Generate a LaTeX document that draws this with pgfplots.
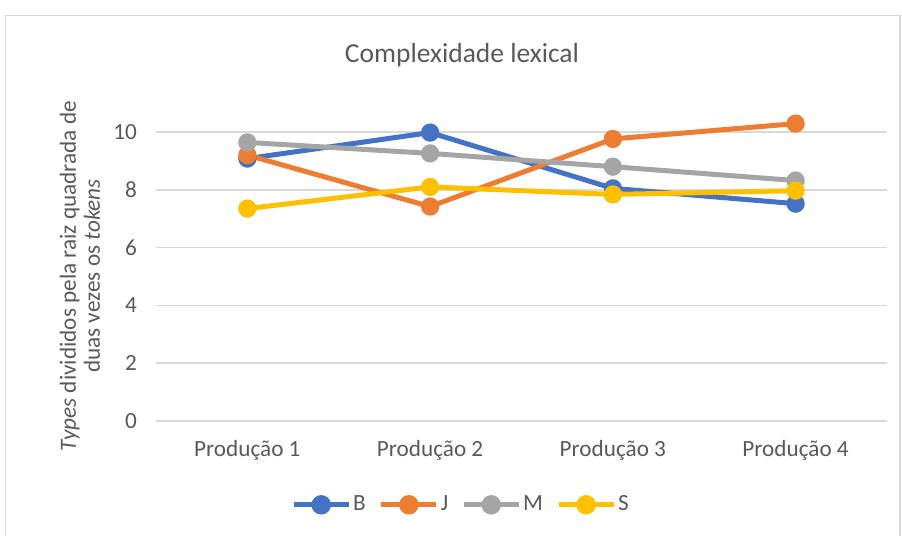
\documentclass[border=0pt]{standalone}
\usepackage{pgfplots}
\pgfplotsset{compat=1.18}
\usepackage{fontspec}
\setmainfont{Carlito}
\definecolor{cB}{HTML}{4472C4}
\definecolor{cJ}{HTML}{ED7D31}
\definecolor{cM}{HTML}{A5A5A5}
\definecolor{cS}{HTML}{FFC000}
\definecolor{txt}{HTML}{595959}
\definecolor{grd}{HTML}{D9D9D9}
\begin{document}
\begin{tikzpicture}
\path[use as bounding box] (0,0) rectangle (451pt,-268pt);
\draw[grd, line width=0.75pt] (2.75pt,-7.75pt) rectangle (450pt,-268.5pt);
\node[text=txt, font=\fontsize{13.75pt}{16pt}\selectfont] at (231pt,-27.5pt) {Complexidade lexical};
\node[text=txt, rotate=90, align=center, font=\fontsize{11.6pt}{12pt}\selectfont] at (40pt,-138pt)
  {\textit{Types} divididos pela raiz quadrada de\\duas vezes os \textit{tokens}};
\begin{axis}[
  at={(78pt,-210.5pt)}, anchor=south west,
  width=365.5pt, height=144.5pt, scale only axis,
  xmin=-0.5, xmax=3.5, ymin=0, ymax=10,
  xtick={0,1,2,3},
  xticklabels={Produção 1, Produção 2, Produção 3, Produção 4},
  ytick={0,2,4,6,8,10},
  ymajorgrids, grid style={grd, line width=0.75pt},
  axis line style={draw=none},
  tick style={draw=none},
  clip=false,
  /pgf/number format/assume math mode=true,
  ticklabel style={text=txt, font=\fontsize{11.6pt}{13pt}\selectfont},
  xticklabel style={yshift=-6pt},
  yticklabel style={xshift=-6pt},
  legend style={at={(0.4186,-0.29)}, anchor=center, draw=none, fill=none,
    legend columns=4, text=txt, font=\fontsize{11.6pt}{13pt}\selectfont,
    /tikz/every even column/.append style={column sep=4.5pt},
    /tikz/every odd column/.append style={column sep=-1pt},
    inner sep=0pt},
  legend cell align=left,
  legend image code/.code={\draw[mark repeat=2, mark phase=2, #1, mark size=3.6pt] plot coordinates {(0pt,0pt) (13.75pt,0pt) (27.5pt,0pt)};},
  every axis plot/.append style={line width=2.5pt, mark=*, mark size=3.3pt, mark options={solid}},
]
\addplot[cB] coordinates {(0,9.08) (1,9.98) (2,8.05) (3,7.52)};
\addplot[cJ] coordinates {(0,9.20) (1,7.42) (2,9.76) (3,10.29)};
\addplot[cM] coordinates {(0,9.64) (1,9.26) (2,8.80) (3,8.32)};
\addplot[cS] coordinates {(0,7.35) (1,8.10) (2,7.84) (3,7.97)};
\legend{B, J, M, S}
\end{axis}
\end{tikzpicture}
\end{document}
